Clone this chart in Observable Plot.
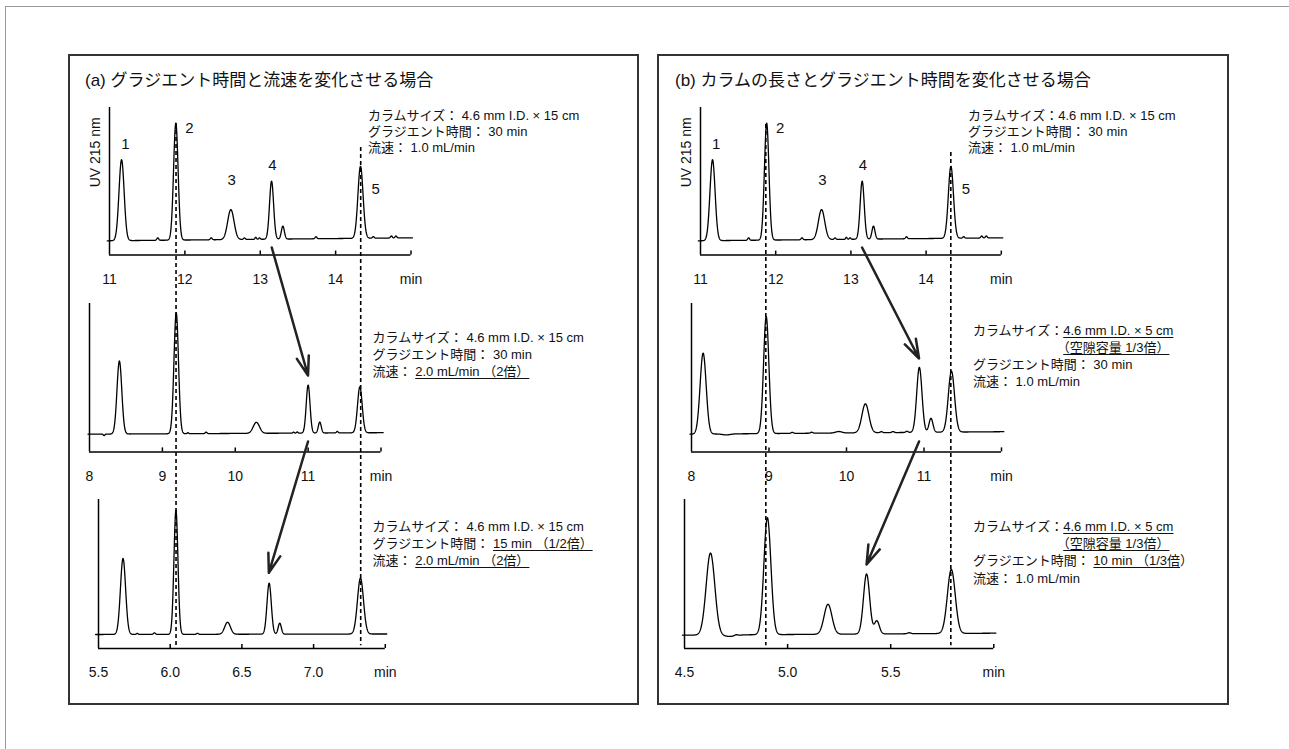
<!DOCTYPE html>
<html><head><meta charset="utf-8">
<script src="https://cdn.jsdelivr.net/npm/d3@7"></script>
<script src="https://cdn.jsdelivr.net/npm/@observablehq/plot@0.6"></script>
<style>
body{margin:0;background:#fff;font-family:"Liberation Sans","Noto Sans CJK JP",sans-serif;color:#111;}
#page{position:relative;width:1289px;height:749px;overflow:hidden;background:#fff;}
#page svg{max-width:none !important;}
.frameOuter{position:absolute;left:5px;top:6px;width:1300px;height:800px;border-top:1.5px solid #9a9a9a;border-left:1.5px solid #9a9a9a;}
.box{position:absolute;border:2px solid #333;box-sizing:border-box;}
.title{position:absolute;font-size:17px;line-height:18px;white-space:nowrap;}
.note{position:absolute;font-size:13px;white-space:nowrap;}
.u{text-decoration:underline;text-underline-offset:2px;text-decoration-thickness:1px;}
.h{visibility:hidden;}
</style></head><body><div id="page"></div>
<script>
// ================= DATA =================
const panelTitles = ["(a) グラジエント時間と流速を変化させる場合", "(b) カラムの長さとグラジエント時間を変化させる場合"];

// x-axis tick values (last one is labelled "min")
const ticksTop  = [11, 12, 13, 14, 15];
const ticksMid  = [8, 9, 10, 11, 12];
const ticksBotA = [5.5, 6.0, 6.5, 7.0, 7.5];
const ticksBotB = [4.5, 5.0, 5.5, 6.0];

// peaks: [retention time (min), height, sigma (min)]  (peaks 1..5 plus the small peak after 4)
const peaksTop  = [[11.16,81,0.034],[11.88,117,0.030],[12.61,30,0.042],[13.15,58,0.027],[13.30,13,0.020],[14.33,72,0.034]];
const peaksMidA = [[8.41,73,0.033],[9.19,121,0.031],[10.29,11,0.043],[11.00,48,0.026],[11.16,11,0.020],[11.71,46,0.032]];
const peaksBotA = [[5.671,76,0.018],[6.04,124,0.014],[6.40,12,0.020],[6.69,51,0.015],[6.764,11,0.011],[7.327,56,0.021]];
const peaksMidB = [[8.15,81,0.039],[8.964,117,0.034],[10.244,29,0.045],[10.94,65,0.034],[11.09,14,0.025],[11.354,61,0.040]];
const peaksBotB = [[4.626,82,0.021],[4.902,117,0.017],[5.196,30,0.019],[5.383,60,0.015],[5.433,13,0.012],[5.794,64,0.019]];

// small baseline features: [time, height, sigma]
const blipsTop  = [[11.64,2.5,0.012],[12.35,2,0.012],[12.79,1.5,0.012],[12.94,2,0.010],[12.99,1.5,0.010],[13.74,2,0.012],[14.50,1.5,0.012],[14.74,2,0.012],[14.80,2,0.012]];
const blipsMidA = [[8.20,-1.5,0.010],[9.35,1,0.010],[9.60,1.5,0.012],[10.80,1,0.010],[10.85,1.2,0.010],[11.40,1.5,0.012]];
const blipsBotA = [[5.77,1,0.006],[5.89,1.5,0.007],[6.19,1,0.006]];
const blipsMidB = [[8.45,-1,0.05],[9.30,1,0.015],[9.55,1,0.015],[9.90,1.5,0.040],[10.45,1,0.015],[10.60,1,0.015],[10.78,1.2,0.015]];
const blipsBotB = [[4.72,-1.5,0.03],[4.75,1,0.008],[5.59,1,0.008]];

// baseline level at start / end of each trace
const driftTop = [0, 3], driftMidA = [0, 1.5], driftBotA = [0, 0.5], driftMidB = [0, 2.5], driftBotB = [0, 2];

// time extent of each recorded trace
const extentTop = [10.97, 15.02], extentMid = [7.98, 12.03], extentBotA = [5.48, 7.51], extentBotB = [4.49, 6.01];

// peak number labels (top chromatograms): [label, time, height]
const peakLabels = [["1",11.21,97],["2",12.06,113],["3",12.62,61],["4",13.16,76],["5",14.53,52]];

// dashed alignment lines: [panel, time in top chromatogram, top level]
const dashLines = [[0,11.88,117],[0,14.33,93],[1,11.87,116],[1,14.33,88]];

// arrows follow peak 4: [panel, from row, to row]
const arrowLinks = [[0,0,1],[0,1,2],[1,0,1],[1,1,2]];

// condition notes: segments [text, style] (u = underlined, h = hidden spacer)
const notesTopA = [[["カラムサイズ： 4.6 mm I.D. × 15 cm"]],[["グラジエント時間： 30 min"]],[["流速： 1.0 mL/min"]]];
const notesMidA = [[["カラムサイズ： 4.6 mm I.D. × 15 cm"]],[["グラジエント時間： 30 min"]],[["流速： "],["2.0 mL/min （2倍）","u"]]];
const notesBotA = [[["カラムサイズ： 4.6 mm I.D. × 15 cm"]],[["グラジエント時間： "],["15 min （1/2倍）","u"]],[["流速： "],["2.0 mL/min （2倍）","u"]]];
const notesTopB = [[["カラムサイズ：4.6 mm I.D. × 15 cm"]],[["グラジエント時間： 30 min"]],[["流速： 1.0 mL/min"]]];
const notesMidB = [[["カラムサイズ："],["4.6 mm I.D. × 5 cm","u"]],[["カラムサイズ：","h"],["（空隙容量 1/3倍）","u"]],[["グラジエント時間： 30 min"]],[["流速： 1.0 mL/min"]]];
const notesBotB = [[["カラムサイズ："],["4.6 mm I.D. × 5 cm","u"]],[["カラムサイズ：","h"],["（空隙容量 1/3倍）","u"]],[["グラジエント時間： "],["10 min （1/3倍","u"],["）"]],[["流速： 1.0 mL/min"]]];

// ================= LAYOUT =================
const FONT = '"Liberation Sans","Noto Sans CJK JP",sans-serif';
const boxes = [{l:68,t:54,r:639,b:705},{l:657,t:54,r:1229,b:705}];
const titlePos = [{x:85,y:72},{x:675,y:72}];
const charts = [
  {panel:0,row:0,domain:[11,15],ticks:ticksTop,fmt:d=>String(d),peaks:peaksTop,blips:blipsTop,drift:driftTop,extent:extentTop,frame:{l:109.2,r:410.7,t:106.7,b:254.3},base:240,labels:true,notes:notesTopA,note:{x:368,y:108,lh:16}},
  {panel:0,row:1,domain:[8,12],ticks:ticksMid,fmt:d=>String(d),peaks:peaksMidA,blips:blipsMidA,drift:driftMidA,extent:extentMid,frame:{l:88.9,r:380.4,t:303.3,b:451.7},base:434,notes:notesMidA,note:{x:372.6,y:328.5,lh:17}},
  {panel:0,row:2,domain:[5.5,7.5],ticks:ticksBotA,fmt:d=>d.toFixed(1),peaks:peaksBotA,blips:blipsBotA,drift:driftBotA,extent:extentBotA,frame:{l:97.7,r:384.5,t:499.3,b:648.3},base:634.3,notes:notesBotA,note:{x:372.6,y:517.5,lh:17}},
  {panel:1,row:0,domain:[11,15],ticks:ticksTop,fmt:d=>String(d),peaks:peaksTop,blips:blipsTop,drift:driftTop,extent:extentTop,frame:{l:699.9,r:1000.7,t:106.7,b:254.3},base:240,labels:true,notes:notesTopB,note:{x:968,y:108,lh:16}},
  {panel:1,row:1,domain:[8,12],ticks:ticksMid,fmt:d=>String(d),peaks:peaksMidB,blips:blipsMidB,drift:driftMidB,extent:extentMid,frame:{l:690.7,r:1000.7,t:303.3,b:451.7},base:434,notes:notesMidB,note:{x:973,y:321.5,lh:17.2}},
  {panel:1,row:2,domain:[4.5,6.0],ticks:ticksBotB,fmt:d=>d.toFixed(1),peaks:peaksBotB,blips:blipsBotB,drift:driftBotB,extent:extentBotB,frame:{l:684,r:993.3,t:499.3,b:648.3},base:635,notes:notesBotB,note:{x:973,y:517.5,lh:17.4}}
];

const page = document.getElementById("page");
function add(el, x, y){ el.style.position="absolute"; el.style.left=x+"px"; el.style.top=y+"px"; page.appendChild(el); return el; }

// outer frame lines and panel boxes
const fo = document.createElement("div"); fo.className="frameOuter"; page.appendChild(fo);
boxes.forEach(b=>{ const d=document.createElement("div"); d.className="box"; d.style.width=(b.r-b.l)+"px"; d.style.height=(b.b-b.t)+"px"; add(d,b.l,b.t); });
panelTitles.forEach((t,i)=>{ const d=document.createElement("div"); d.className="title"; d.textContent=t; add(d,titlePos[i].x,titlePos[i].y); });

// ================= CHARTS =================
const mL=50, mR=40, mT=20, mB=45;
charts.forEach(c=>{
  const [d0,d1]=c.domain, f=c.frame;
  const yMin = -(f.b - c.base), yMax = yMin + (f.b - f.t);
  c.yMin=yMin; c.yMax=yMax;
  const comps = c.peaks.concat(c.blips);
  const [e0,e1]=c.extent, n=1600;
  const trace = d3.range(n+1).map(i=>{
    const x=e0+(e1-e0)*i/n;
    let v=c.drift[0]+(c.drift[1]-c.drift[0])*(x-e0)/(e1-e0);
    for(const [m,h,s] of comps) v+=h*Math.exp(-((x-m)**2)/(2*s*s));
    return {t:x,v};
  });
  const last=c.ticks[c.ticks.length-1];
  const marks=[
    Plot.ruleY([yMin],{x1:d0,x2:d1,stroke:"#000",strokeWidth:1.5}),
    Plot.ruleX([d0],{y1:yMin,y2:yMax,stroke:"#000",strokeWidth:1.5}),
    Plot.ruleX(c.ticks.slice(1),{y1:yMin,y2:yMin+4,stroke:"#000",strokeWidth:1.5}),
    Plot.axisX(c.ticks,{tickSize:0,tickPadding:19,tickFormat:d=>d===last?"min":c.fmt(d),fontSize:14,label:null,fill:"#111"}),
    Plot.line(trace,{x:"t",y:"v",stroke:"#000",strokeWidth:1.3})
  ];
  if(c.labels){
    marks.push(Plot.text(peakLabels,{x:d=>d[1],y:d=>d[2],text:d=>d[0],fontSize:15,fill:"#111"}));
    marks.push(Plot.text(["UV 215 nm"],{frameAnchor:"left",rotate:-90,dx:-14,dy:6,fontSize:14,fill:"#111"}));
  }
  const p = Plot.plot({
    width:(f.r-f.l)+mL+mR, height:(f.b-f.t)+mT+mB,
    marginLeft:mL, marginRight:mR, marginTop:mT, marginBottom:mB,
    x:{domain:[d0,d1]}, y:{domain:[yMin,yMax],axis:null},
    style:{background:"transparent",overflow:"visible",fontFamily:FONT,fontSize:"14px"},
    marks
  });
  const ox=f.l-mL, oy=f.t-mT;
  add(p, ox, oy);
  const sx=p.scale("x"), sy=p.scale("y");
  c.px = v=>sx.apply(v)+ox;
  c.py = v=>sy.apply(v)+oy;

  // notes
  const nd=document.createElement("div"); nd.className="note"; nd.style.lineHeight=c.note.lh+"px";
  c.notes.forEach(line=>{
    const ld=document.createElement("div");
    line.forEach(([txt,cls])=>{ const s=document.createElement("span"); s.textContent=txt; if(cls) s.className=cls; ld.appendChild(s); });
    nd.appendChild(ld);
  });
  add(nd, c.note.x, c.note.y);
});

// ================= OVERLAY: dashed lines & arrows =================
const chartAt=(panel,row)=>charts.find(c=>c.panel===panel&&c.row===row);
const dashData = dashLines.map(([panel,t,top])=>{
  const a=chartAt(panel,0), z=chartAt(panel,2);
  return {x:a.px(t), y1:a.py(top), y2:z.py(z.yMin+3)};
});
const arrowData = arrowLinks.map(([panel,r0,r1])=>{
  const a=chartAt(panel,r0), b=chartAt(panel,r1);
  const pa=a.peaks[3], pb=b.peaks[3];
  return {x1:a.px(pa[0]), y1:a.py(-7), x2:b.px(pb[0]), y2:b.py(pb[1]+11)};
});
const overlay = Plot.plot({
  width:1289, height:749, margin:0,
  x:{type:"identity",axis:null}, y:{type:"identity",axis:null},
  style:{background:"transparent",overflow:"visible"},
  marks:[
    Plot.ruleX(dashData,{x:"x",y1:"y1",y2:"y2",stroke:"#000",strokeWidth:1.6,strokeDasharray:"4,3"}),
    Plot.arrow(arrowData,{x1:"x1",y1:"y1",x2:"x2",y2:"y2",stroke:"#222",strokeWidth:2.5,headLength:12,headAngle:36})
  ]
});
overlay.style.pointerEvents="none";
add(overlay,0,0);
</script></body></html>
